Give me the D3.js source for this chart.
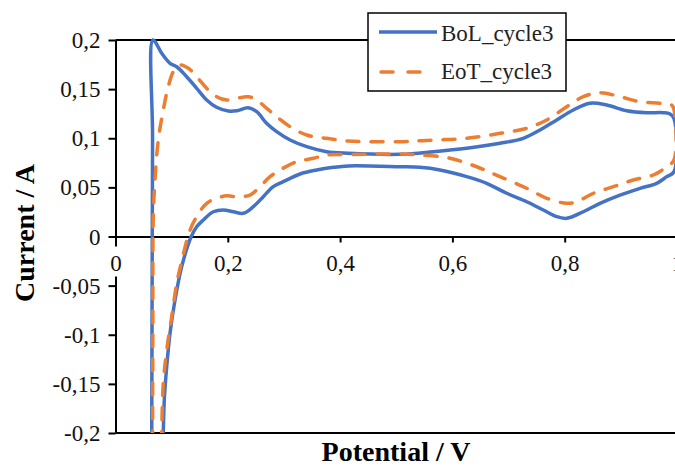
<!DOCTYPE html>
<html>
<head>
<meta charset="utf-8">
<script src="https://cdn.jsdelivr.net/npm/d3@7"></script>
<style>
body { margin: 0; background: #fff; }
svg { display: block; }
text { font-family: "Liberation Serif", "Times New Roman", serif; }
</style>
</head>
<body>
<svg width="675" height="466"></svg>
<script>
// values (potential V, current A)
var bolV = [0.0645, 0.0650, 0.0660, 0.0668, 0.0823, 0.0971, 0.109, 0.1268, 0.1446, 0.1624, 0.180, 0.201, 0.216, 0.2365, 0.2515, 0.269, 0.287, 0.311, 0.3405, 0.376, 0.4146, 0.5066, 0.566, 0.6255, 0.6848, 0.7263, 0.756, 0.7857, 0.8153, 0.845, 0.8748, 0.9104, 0.946, 0.9756, 0.9875, 0.9947, 0.9947, 0.9817, 0.9638, 0.934, 0.8985, 0.8629, 0.8331, 0.8036, 0.7857, 0.7619, 0.7323, 0.6967, 0.661, 0.6255, 0.5779, 0.5423, 0.5066, 0.4146, 0.388, 0.3583, 0.3286, 0.2988, 0.281, 0.2632, 0.2454, 0.2276, 0.2098, 0.192, 0.1742, 0.1564, 0.1446, 0.1345, 0.1179, 0.106, 0.0971, 0.0912, 0.0869, 0.0851, 0.0848]
var bolI = [-0.21, -0.1, 0.1, 0.2, 0.1865, 0.1763, 0.1728, 0.1626, 0.1508, 0.139, 0.1315, 0.1277, 0.128, 0.1311, 0.127, 0.1152, 0.1067, 0.0982, 0.0914, 0.0863, 0.0847, 0.0837, 0.0863, 0.0898, 0.0949, 0.0999, 0.1084, 0.1186, 0.1288, 0.1356, 0.1338, 0.128, 0.126, 0.126, 0.1247, 0.12, 0.066, 0.0609, 0.0541, 0.049, 0.0422, 0.0338, 0.0252, 0.0185, 0.0202, 0.027, 0.0354, 0.044, 0.0541, 0.0609, 0.0677, 0.0704, 0.071, 0.0718, 0.0704, 0.0677, 0.0636, 0.0558, 0.0507, 0.0405, 0.0303, 0.0236, 0.0252, 0.027, 0.0252, 0.0168, 0.01, -0.0005, -0.0307, -0.0646, -0.0985, -0.1325, -0.1664, -0.2, -0.21]

var eotV = [0.066, 0.0665, 0.0673, 0.0703, 0.0762, 0.0851, 0.094, 0.1029, 0.1149, 0.1297, 0.1446, 0.1624, 0.1802, 0.198, 0.2158, 0.2365, 0.2515, 0.2693, 0.2871, 0.3108, 0.3405, 0.3761, 0.4146, 0.5066, 0.566, 0.6255, 0.6848, 0.7323, 0.768, 0.8036, 0.8331, 0.8629, 0.8985, 0.934, 0.9697, 0.9905, 0.9947, 0.9947, 0.9817, 0.9578, 0.9222, 0.8866, 0.8509, 0.8214, 0.8036, 0.768, 0.7323, 0.6848, 0.6433, 0.5957, 0.5423, 0.5066, 0.4146, 0.376, 0.3523, 0.3227, 0.293, 0.2752, 0.2573, 0.2395, 0.2158, 0.198, 0.1802, 0.1624, 0.1446, 0.1327, 0.1149, 0.109, 0.1001, 0.0912, 0.0851, 0.0823, 0.082]
var eotI = [-0.21, -0.1, 0.0202, 0.0575, 0.0982, 0.1288, 0.1525, 0.1677, 0.1746, 0.1712, 0.1626, 0.1508, 0.1423, 0.1389, 0.1407, 0.1423, 0.1389, 0.1305, 0.1219, 0.1118, 0.1033, 0.0999, 0.0972, 0.0965, 0.0982, 0.0999, 0.105, 0.1101, 0.1186, 0.1321, 0.1423, 0.1464, 0.1423, 0.1372, 0.1356, 0.1338, 0.1288, 0.0779, 0.071, 0.0626, 0.0575, 0.0507, 0.044, 0.0354, 0.0338, 0.0389, 0.0491, 0.0609, 0.071, 0.0796, 0.083, 0.084, 0.0835, 0.083, 0.0796, 0.0761, 0.0677, 0.0609, 0.0507, 0.0422, 0.0405, 0.0415, 0.0389, 0.0338, 0.0202, 0.0066, -0.0324, -0.0476, -0.0816, -0.1155, -0.1494, -0.2, -0.21]

var seriesNames = ["BoL_cycle3", "EoT_cycle3"]
var xTicks = [0, 0.2, 0.4, 0.6, 0.8, 1]
var yTicks = [-0.2, -0.15, -0.1, -0.05, 0, 0.05, 0.1, 0.15, 0.2]
var xTitle = "Potential / V"
var yTitle = "Current / A"

var blue = "#4472C4"
var orange = "#ED7D31"
var serif = '"Liberation Serif", "Times New Roman", serif'

var svg = d3.select('svg')
svg.append('rect').attr('width', 675).attr('height', 466).attr('fill', '#fff')

var x = d3.scaleLinear().domain([0, 1]).range([115.5, 677])
var y = d3.scaleLinear().domain([-0.2, 0.2]).range([433, 40])

var fmt = function(d) { return String(Math.round(d * 100) / 100).replace('.', ',') }

// y axis
var yAxis = svg.append('g')
  .attr('transform', 'translate(' + x(0) + ',0)')
  .call(d3.axisLeft(y).tickValues(yTicks).tickSizeInner(7).tickSizeOuter(0).tickPadding(8).tickFormat(fmt))
yAxis.attr('font-family', serif).attr('font-size', null)
yAxis.selectAll('text').attr('font-size', 23).attr('fill', '#111').attr('dy', '0.33em')
yAxis.selectAll('line, path').attr('stroke', '#000').attr('stroke-width', 2)

// plot area top and bottom border
svg.append('line').attr('x1', x(0)).attr('x2', x(1)).attr('y1', y(0.2)).attr('y2', y(0.2))
  .attr('stroke', '#000').attr('stroke-width', 2)
svg.append('line').attr('x1', x(0)).attr('x2', x(1)).attr('y1', y(-0.2)).attr('y2', y(-0.2))
  .attr('stroke', '#000').attr('stroke-width', 2)

// x axis through zero
var xAxis = svg.append('g')
  .attr('transform', 'translate(0,' + y(0) + ')')
  .call(d3.axisBottom(x).tickValues(xTicks).tickSizeInner(6).tickSizeOuter(0).tickFormat(fmt))
xAxis.attr('font-family', serif).attr('font-size', null)
xAxis.selectAll('line, path').attr('stroke', '#000').attr('stroke-width', 2)
xAxis.selectAll('.tick').filter(function(d) { return d === 0 })
  .insert('rect', 'text')
  .attr('x', -8).attr('y', 10).attr('width', 16).attr('height', 30).attr('fill', '#fff')
xAxis.selectAll('text').attr('font-size', 23).attr('fill', '#111').attr('y', 34).attr('dy', 0)

// curves
svg.append('clipPath').attr('id', 'plotclip')
  .append('rect').attr('x', x(0)).attr('y', y(0.2) - 3).attr('width', x(1) - x(0)).attr('height', y(-0.2) - y(0.2) + 3)

var line = d3.line()
  .x(function(d) { return x(d[0]) })
  .y(function(d) { return y(d[1]) })
  .curve(d3.curveCatmullRom.alpha(0.5))

var plot = svg.append('g').attr('clip-path', 'url(#plotclip)')
plot.append('path').datum(d3.zip(bolV, bolI))
  .attr('d', line).attr('fill', 'none').attr('stroke', blue).attr('stroke-width', 3.5)
  .attr('stroke-linejoin', 'round')
plot.append('path').datum(d3.zip(eotV, eotI))
  .attr('d', line).attr('fill', 'none').attr('stroke', orange).attr('stroke-width', 3.5)
  .attr('stroke-dasharray', '12,12').attr('stroke-linecap', 'round')

// axis titles
svg.append('text').attr('x', 396).attr('y', 461)
  .attr('font-family', serif)
  .attr('text-anchor', 'middle').attr('font-size', 28).attr('font-weight', 'bold').attr('fill', '#000')
  .text(xTitle)
svg.append('text').attr('transform', 'translate(34,233) rotate(-90)')
  .attr('font-family', serif)
  .attr('text-anchor', 'middle').attr('font-size', 28).attr('font-weight', 'bold').attr('fill', '#000')
  .text(yTitle)

// legend
var legend = svg.append('g')
legend.append('rect').attr('x', 368).attr('y', 13).attr('width', 198).attr('height', 78)
  .attr('fill', '#fff').attr('stroke', '#000').attr('stroke-width', 1.5)
legend.append('line').attr('x1', 379).attr('x2', 437).attr('y1', 32).attr('y2', 32)
  .attr('stroke', blue).attr('stroke-width', 3.5)
legend.append('line').attr('x1', 381).attr('x2', 422).attr('y1', 72).attr('y2', 72)
  .attr('stroke', orange).attr('stroke-width', 3.5).attr('stroke-dasharray', '12,15').attr('stroke-linecap', 'round')
legend.selectAll('text.lab').data(seriesNames).enter().append('text')
  .attr('class', 'lab')
  .attr('x', 441)
  .attr('y', function(d, i) { return 41 + i * 38 })
  .attr('font-family', serif)
  .attr('font-size', 23).attr('fill', '#222')
  .text(function(d) { return d })
</script>
</body>
</html>
